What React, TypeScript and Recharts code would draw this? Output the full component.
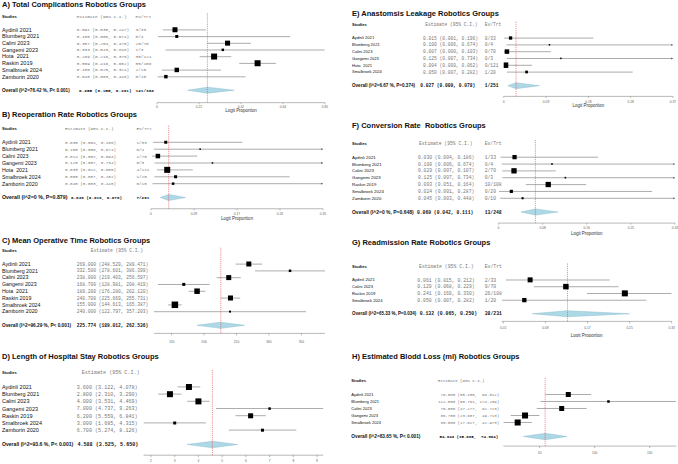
import React from "react";
import { ComposedChart, Bar, Scatter, XAxis, YAxis, ReferenceLine } from "recharts";

const SANS = "'Liberation Sans', Arial, sans-serif";
const MONO = "'Liberation Mono', 'Courier New', monospace";

// A) Total complications
const studiesA = ["Aydinli 2021", "Blumberg 2021", "Calini 2023", "Gangemi 2023", "Hota  2021", "Raskin 2019", "Smalbroek 2024", "Zamborin 2020"];
const estA = [0.091, 0.1, 0.357, 0.333, 0.289, 0.509, 0.1, 0.045];
const loA = [0.03, 0.006, 0.254, 0.043, 0.216, 0.416, 0.025, 0.003];
const hiA = [0.247, 0.674, 0.475, 0.848, 0.376, 0.602, 0.324, 0.448];
const evA = [3, 0, 25, 1, 35, 55, 2, 0];
const nA = [33, 4, 70, 3, 121, 108, 20, 10];
const wA = [14.8, 5.3, 14.8, 3.6, 21.3, 21.3, 11.8, 7.1];
const overallA: [number, number, number] = [0.255, 0.155, 0.391];
const ticksA = [0, 0.2125, 0.425, 0.6375, 0.85];
const tickLabelsA = ["0", "0.21", "0.42", "0.64", "0.85"];

// B) Reoperation rate
const studiesB = ["Aydinli 2021", "Blumberg 2021", "Calini 2023", "Gangemi 2023", "Hota  2021", "Smalbroek 2024", "Zamborin 2020"];
const estB = [0.03, 0.1, 0.014, 0.125, 0.033, 0.05, 0.045];
const loB = [0.004, 0.006, 0.002, 0.007, 0.012, 0.007, 0.003];
const hiB = [0.186, 0.674, 0.094, 0.734, 0.085, 0.282, 0.448];
const evB = [1, 0, 1, 0, 4, 1, 0];
const nB = [33, 4, 70, 3, 121, 20, 10];
const wB = [10.6, 2.7, 23.9, 2.7, 42.5, 10.6, 7.4];
const overallB: [number, number, number] = [0.036, 0.019, 0.07];
const ticksB = [0, 0.0875, 0.175, 0.2625, 0.35];
const tickLabelsB = ["0", "0.09", "0.17", "0.26", "0.35"];

// C) Mean operative time
const studiesC = ["Aydinli 2021", "Blumberg 2021", "Calini 2023", "Gangemi 2023", "Hota  2021", "Raskin 2019", "Smalbroek 2024", "Zamborin 2020"];
const estC = [269.0, 332.5, 238.0, 168.7, 189.2, 240.7, 155.0, 240.0];
const loC = [248.529, 278.601, 219.403, 128.981, 176.28, 225.669, 144.613, 122.797];
const hiC = [289.471, 386.399, 256.597, 208.419, 202.12, 255.731, 165.387, 357.203];
const wC = [15.0, 3.8, 15.0, 5.4, 18.1, 15.0, 25.3, 2.4];
const overallC: [number, number, number] = [225.774, 189.012, 262.536];
const ticksC = [150, 200, 250, 300, 350];
const tickLabelsC = ["150", "200", "250", "300", "350"];

// D) Length of hospital stay
const studiesD = ["Aydinli 2021", "Blumberg 2021", "Calini 2023", "Gangemi 2023", "Raskin 2019", "Smalbroek 2024", "Zamborin 2020"];
const estD = [3.6, 2.8, 4.0, 7.0, 6.2, 3.0, 6.7];
const loD = [3.122, 2.31, 3.531, 4.737, 5.559, 1.685, 5.274];
const hiD = [4.078, 3.29, 4.469, 9.263, 6.841, 4.315, 8.126];
const wD = [22.9, 22.9, 22.9, 4.0, 15.9, 5.7, 5.7];
const overallD: [number, number, number] = [4.588, 3.525, 5.65];
const ticksD = [2, 3, 4, 5, 6, 7, 8, 9];
const tickLabelsD = ["2", "3", "4", "5", "6", "7", "8", "9"];

// E) Anastomosis leakage
const studiesE = ["Aydinli 2021", "Blumberg 2021", "Calini 2023", "Gangemi 2023", "Hota  2021", "Smalbroek 2024"];
const estE = [0.015, 0.1, 0.007, 0.125, 0.004, 0.05];
const loE = [0.001, 0.006, 0.0, 0.007, 0.0, 0.007];
const hiE = [0.196, 0.674, 0.103, 0.734, 0.062, 0.282];
const evE = [0, 0, 0, 0, 0, 1];
const nE = [33, 4, 70, 3, 121, 20];
const wE = [14.9, 3.1, 27.7, 3.1, 41.3, 10.0];
const overallE: [number, number, number] = [0.027, 0.009, 0.078];
const ticksE = [0, 0.0925, 0.185, 0.2775, 0.37];
const tickLabelsE = ["0", "0.09", "0.18", "0.28", "0.37"];

// F) Conversion rate
const studiesF = ["Aydinli 2021", "Blumberg 2021", "Calini 2023", "Gangemi 2023", "Raskin 2019", "Smalbroek 2024", "Zamborin 2020"];
const estF = [0.03, 0.1, 0.029, 0.125, 0.093, 0.024, 0.045];
const loF = [0.004, 0.006, 0.007, 0.007, 0.051, 0.001, 0.003];
const hiF = [0.186, 0.674, 0.107, 0.734, 0.164, 0.287, 0.448];
const evF = [1, 0, 2, 0, 10, 0, 0];
const nF = [33, 4, 70, 3, 108, 20, 10];
const wF = [19.2, 2.7, 29.9, 2.7, 29.9, 10.8, 4.8];
const overallF: [number, number, number] = [0.069, 0.042, 0.111];
const ticksF = [0, 0.0825, 0.165, 0.2475, 0.33];
const tickLabelsF = ["0", "0.08", "0.16", "0.25", "0.33"];

// G) Readmission rate
const studiesG = ["Aydinli 2021", "Calini 2023", "Raskin 2019", "Smalbroek 2024"];
const estG = [0.061, 0.129, 0.241, 0.05];
const loG = [0.015, 0.068, 0.169, 0.007];
const hiG = [0.212, 0.229, 0.33, 0.282];
const evG = [2, 9, 26, 1];
const nG = [33, 70, 108, 20];
const wG = [22.8, 27.4, 32.9, 16.9];
const overallG: [number, number, number] = [0.132, 0.065, 0.25];
const ticksG = [0.01, 0.09, 0.17, 0.25, 0.33];
const tickLabelsG = ["0.01", "0.09", "0.17", "0.25", "0.33"];

// H) Estimated blood loss
const studiesH = ["Aydinli 2021", "Blumberg 2021", "Calini 2023", "Gangemi 2023", "Smalbroek 2024"];
const estH = [76.0, 112.5, 70.0, 36.7, 30.0];
const loH = [55.188, 50.761, 47.277, 23.687, 17.027];
const hiH = [96.812, 174.239, 92.723, 49.713, 42.973];
const wH = [19.5, 4.9, 19.5, 28.1, 28.1];
const overallH: [number, number, number] = [54.949, 35.095, 74.804];
const ticksH = [50, 100, 150];
const tickLabelsH = ["50", "100", "150"];

type PanelData = {
  title: string;
  studies: string[];
  est: number[];
  lo: number[];
  hi: number[];
  w: number[];
  ev?: number[];
  n?: number[];
  overallLabel: string;
  overall: [number, number, number];
  domain: [number, number];
  ticks: number[];
  tickLabels: string[];
  xLabel?: string;
};

type Layout = {
  left: number;
  top: number;
  width: number;
  yw: number;
  mr: number;
  band: number;
  pad: number;
  axisH: number;
  titleX: number;
  titleBase: number;
  nameX: number;
  estX: number;
  ovDx: number;
  estHeadX: number;
  evX?: number;
  nameSize: number;
  ovSize: number;
  monoSize: number;
  sqMax: number;
  tickSize: number;
  tickMargin: number;
  lblDy?: number;
};

type Row = {
  key: string;
  kind: "hdr" | "gap" | "study" | "overall";
  name?: string;
  sq?: number;
  est?: number;
  lo?: number;
  hi?: number;
  range?: [number, number];
  ci?: string;
  evt?: string;
  w?: number;
};

const LOGIT = "Logit Proportion";

const panels: { d: PanelData; L: Layout }[] = [
  {
    d: { title: "A) Total Complications Robotics Groups", studies: studiesA, est: estA, lo: loA, hi: hiA, w: wA, ev: evA, n: nA,
      overallLabel: "Overall (I^2=76.42 %, P< 0.001)", overall: overallA, domain: [0, 0.85], ticks: ticksA, tickLabels: tickLabelsA, xLabel: LOGIT },
    L: { left: 0, top: 13.35, width: 335, yw: 157, mr: 10, band: 6.7, pad: 9.25, axisH: 12, titleX: 2, titleBase: 7.5,
      nameX: 2, estX: 76.7, ovDx: 2.3, estHeadX: 76.7, evX: 135.5, nameSize: 5.5, ovSize: 4.66, monoSize: 4.4, sqMax: 6, tickSize: 1.5, tickMargin: 1.7, lblDy: 8 },
  },
  {
    d: { title: "B) Reoperation Rate Robotics Groups", studies: studiesB, est: estB, lo: loB, hi: hiB, w: wB, ev: evB, n: nB,
      overallLabel: "Overall (I^2=0 %, P=0.879)", overall: overallB, domain: [0, 0.35], ticks: ticksB, tickLabels: tickLabelsB, xLabel: LOGIT },
    L: { left: 0, top: 125.25, width: 333, yw: 151, mr: 10, band: 6.9, pad: 7.85, axisH: 13, titleX: 2, titleBase: 117.5,
      nameX: 2, estX: 65, ovDx: 6, estHeadX: 65, evX: 136.5, nameSize: 5.3, ovSize: 5.3, monoSize: 4.25, sqMax: 6, tickSize: 1.5, tickMargin: 2.3, lblDy: 10 },
  },
  {
    d: { title: "C) Mean Operative Time Robotics Groups", studies: studiesC, est: estC, lo: loC, hi: hiC, w: wC,
      overallLabel: "Overall (I^2=96.29 %, P< 0.001)", overall: overallC, domain: [122.797, 386.399], ticks: ticksC, tickLabels: tickLabelsC },
    L: { left: 0, top: 246.6, width: 335, yw: 154, mr: 10, band: 6.8, pad: 4.8, axisH: 12, titleX: 2, titleBase: 243.7,
      nameX: 2, estX: 76.7, ovDx: 0, estHeadX: 90.7, nameSize: 5.3, ovSize: 4.75, monoSize: 4.6, sqMax: 6.5, tickSize: 2, tickMargin: 4.8 },
  },
  {
    d: { title: "D) Length of Hospital Stay Robotics Groups", studies: studiesD, est: estD, lo: loD, hi: hiD, w: wD,
      overallLabel: "Overall (I^2=93.6 %, P< 0.001)", overall: overallD, domain: [1.685, 9.263], ticks: ticksD, tickLabels: tickLabelsD },
    L: { left: 0, top: 369.1, width: 333.3, yw: 143.5, mr: 10, band: 7.2, pad: 7, axisH: 9, titleX: 2, titleBase: 359.3,
      nameX: 2, estX: 76.7, ovDx: 0.7, estHeadX: 81.7, nameSize: 5.5, ovSize: 5.1, monoSize: 5.1, sqMax: 6, tickSize: 2, tickMargin: 2.5 },
  },
  {
    d: { title: "E) Anastomsis Leakage Robotics Groups", studies: studiesE, est: estE, lo: loE, hi: hiE, w: wE, ev: evE, n: nE,
      overallLabel: "Overall (I^2=6.67 %, P=0.374)", overall: overallE, domain: [0, 0.37], ticks: ticksE, tickLabels: tickLabelsE, xLabel: LOGIT },
    L: { left: 338, top: 20.6, width: 340, yw: 165.7, mr: 5, band: 6.8, pad: 7.4, axisH: 13, titleX: 14, titleBase: 16.5,
      nameX: 14, estX: 85, ovDx: -2.7, estHeadX: 87.3, evX: 146.7, nameSize: 4.1, ovSize: 4.6, monoSize: 4.6, sqMax: 5.5, tickSize: 1.5, tickMargin: 2.3, lblDy: 9.5 },
  },
  {
    d: { title: "F) Conversion Rate  Robotics Groups", studies: studiesF, est: estF, lo: loF, hi: hiF, w: wF, ev: evF, n: nF,
      overallLabel: "Overall (I^2=0 %, P=0.648)", overall: overallF, domain: [0, 0.33], ticks: ticksF, tickLabels: tickLabelsF, xLabel: LOGIT },
    L: { left: 338, top: 139.9, width: 340, yw: 160.5, mr: 3, band: 6.85, pad: 7.75, axisH: 13, titleX: 14, titleBase: 128.3,
      nameX: 14, estX: 80, ovDx: -1, estHeadX: 81, evX: 146.7, nameSize: 4.4, ovSize: 5.0, monoSize: 4.7, sqMax: 5.3, tickSize: 1.5, tickMargin: 2.3, lblDy: 10 },
  },
  {
    d: { title: "G) Readmission Rate Robotics Groups", studies: studiesG, est: estG, lo: loG, hi: hiG, w: wG, ev: evG, n: nG,
      overallLabel: "Overall (I^2=65.33 %, P=0.034)", overall: overallG, domain: [0.007, 0.33], ticks: ticksG, tickLabels: tickLabelsG, xLabel: LOGIT },
    L: { left: 338, top: 262.9, width: 340, yw: 163.7, mr: 6.3, band: 6.75, pad: 4.4, axisH: 16, titleX: 14, titleBase: 245,
      nameX: 14, estX: 79.3, ovDx: 2.4, estHeadX: 81, evX: 146.7, nameSize: 4.2, ovSize: 4.5, monoSize: 4.8, sqMax: 6, tickSize: 2, tickMargin: 3.5, lblDy: 14 },
  },
  {
    d: { title: "H) Estimated Blodd Loss (ml) Robotics Groups", studies: studiesH, est: estH, lo: loH, hi: hiH, w: wH,
      overallLabel: "Overall (I^2=83.65 %, P< 0.001)", overall: overallH, domain: [17.027, 174.239], ticks: ticksH, tickLabels: tickLabelsH },
    L: { left: 338, top: 377.2, width: 340, yw: 165.4, mr: 1.6, band: 7, pad: 6.1, axisH: 12, titleX: 14, titleBase: 359.7,
      nameX: 13.3, estX: 100, ovDx: -1, estHeadX: 100, nameSize: 4.1, ovSize: 4.75, monoSize: 4.1, sqMax: 6, tickSize: 2, tickMargin: 3.5 },
  },
];

const sum = (a: number[]) => a.reduce((s, v) => s + v, 0);

function buildRows(d: PanelData): Row[] {
  const width = (vals: number[]) => Math.max(...vals.map((v) => v.toFixed(3).length));
  const we = width([...d.est, d.overall[0]]);
  const wl = width([...d.lo, d.overall[1]]);
  const wh = width([...d.hi, d.overall[2]]);
  const f = (v: number, n: number) => v.toFixed(3).padStart(n, " ");
  const ci = (e: number, l: number, h: number) => `${f(e, we)} (${f(l, wl)}, ${f(h, wh)})`;

  const rows: Row[] = [
    { key: "__hdr", kind: "hdr" },
    { key: "__g1", kind: "gap" },
  ];
  d.studies.forEach((s, i) => {
    rows.push({
      key: s,
      kind: "study",
      name: s,
      sq: d.est[i],
      est: d.est[i],
      lo: d.lo[i],
      hi: d.hi[i],
      range: [d.lo[i], d.hi[i]],
      ci: ci(d.est[i], d.lo[i], d.hi[i]),
      evt: d.ev && d.n ? `${d.ev[i]}/${d.n[i]}` : undefined,
      w: d.w[i],
    });
  });
  rows.push({ key: "__g2", kind: "gap" });
  const [oe, ol, oh] = d.overall;
  rows.push({
    key: "__ov",
    kind: "overall",
    name: d.overallLabel,
    est: oe,
    lo: ol,
    hi: oh,
    range: [ol, oh],
    ci: ci(oe, ol, oh),
    evt: d.ev && d.n ? `${sum(d.ev)}/${sum(d.n)}` : undefined,
  });
  return rows;
}

function ForestPanel({ d, L }: { d: PanelData; L: Layout }) {
  const rows = buildRows(d);
  const rowMap = new Map(rows.map((r) => [r.key, r]));
  const maxW = Math.max(...d.w);
  const plotRight = L.width - L.mr;
  const height = rows.length * L.band + L.pad + L.axisH;
  const hasEv = !!d.ev;

  const rowTick = (p: any) => {
    const r = rowMap.get(p.payload?.value);
    const y = p.y;
    if (!r || r.kind === "gap") return <g />;
    const mono = { fontFamily: MONO, fontSize: L.monoSize, style: { whiteSpace: "pre" as const } };
    if (r.kind === "hdr") {
      return (
        <g>
          <text x={L.nameX} y={y} dy="0.35em" fontFamily={SANS} fontSize={4.1} fontWeight="bold" fill="#111">Studies</text>
          <text x={L.estHeadX} y={y} dy="0.35em" fill="#777" {...mono}>Estimate (95% C.I.)</text>
          {hasEv && L.evX != null && (
            <text x={L.evX} y={y} dy="0.35em" fill="#777" {...mono}>Ev/Trt</text>
          )}
        </g>
      );
    }
    const bold = r.kind === "overall";
    return (
      <g>
        <text
          x={L.nameX}
          y={y}
          dy="0.35em"
          fontFamily={SANS}
          fontSize={bold ? L.ovSize : L.nameSize}
          fontWeight={bold ? "bold" : "normal"}
          fill="#111"
          style={{ whiteSpace: "pre" }}
        >
          {r.name}
        </text>
        <text
          x={L.estX + (bold ? L.ovDx : 0)}
          y={y}
          dy="0.35em"
          fill={bold ? "#111" : "#777"}
          fontWeight={bold ? "bold" : "normal"}
          {...mono}
        >
          {r.ci}
        </text>
        {r.evt && L.evX != null && (
          <text x={L.evX} y={y} dy="0.35em" fill={bold ? "#111" : "#777"} fontWeight={bold ? "bold" : "normal"} {...mono}>{r.evt}</text>
        )}
      </g>
    );
  };

  const ciShape = (p: any) => {
    const r = p.payload as Row;
    if (!r || !r.range || !isFinite(p.x) || !isFinite(p.width)) return <g />;
    const cy = p.y + p.height / 2;
    if (r.kind === "overall") {
      const xm = p.x + (p.width * (r.est! - r.lo!)) / (r.hi! - r.lo!);
      const h = L.band * 0.45;
      return (
        <polygon
          points={`${p.x},${cy} ${xm},${cy - h} ${p.x + p.width},${cy} ${xm},${cy + h}`}
          fill="#add8e6"
          stroke="#7fb2c8"
          strokeWidth={0.4}
        />
      );
    }
    const x2 = Math.min(p.x + p.width, plotRight);
    const over = r.hi! > d.domain[1];
    return (
      <g>
        <line x1={p.x} x2={x2} y1={cy} y2={cy} stroke="#666" strokeWidth={0.55} />
        {over && <polygon points={`${x2},${cy} ${x2 - 2},${cy - 0.9} ${x2 - 2},${cy + 0.9}`} fill="#666" />}
      </g>
    );
  };

  const squareShape = (p: any) => {
    const r = p.payload as Row;
    if (!r || r.kind !== "study" || !isFinite(p.cx) || !isFinite(p.cy)) return <g />;
    const s = Math.max(1.3, L.sqMax * Math.sqrt(r.w! / maxW));
    return <rect x={p.cx - s / 2} y={p.cy - s / 2} width={s} height={s} fill="#000" />;
  };

  const lblCenter = L.lblDy ?? 0;

  return (
    <>
      <div
        style={{
          position: "absolute",
          left: L.left + L.titleX,
          top: L.titleBase - 6.35,
          fontFamily: SANS,
          fontWeight: 700,
          fontSize: 7.5,
          lineHeight: 1,
          whiteSpace: "pre",
          color: "#111",
        }}
      >
        {d.title}
      </div>
      <div style={{ position: "absolute", left: L.left, top: L.top }}>
        <ComposedChart
          width={L.width}
          height={height}
          layout="vertical"
          data={rows}
          margin={{ top: 0, right: L.mr, bottom: 0, left: 0 }}
          barCategoryGap={0}
        >
          <XAxis
            type="number"
            domain={d.domain}
            ticks={d.ticks}
            interval={0}
            allowDataOverflow
            height={L.axisH}
            stroke="#8a8a8a"
            strokeWidth={0.6}
            tickSize={L.tickSize}
            tickMargin={L.tickMargin}
            tick={{ fontSize: 3.3, fill: "#666", fontFamily: SANS }}
            tickFormatter={(_v: number, i: number) => d.tickLabels[i]}
            label={
              d.xLabel
                ? {
                    value: d.xLabel,
                    position: "insideBottom",
                    offset: L.axisH - (lblCenter + 1.6),
                    fontSize: 4.5,
                    fill: "#333",
                    fontFamily: SANS,
                  }
                : undefined
            }
          />
          <YAxis
            type="category"
            dataKey="key"
            width={L.yw}
            axisLine={false}
            tickLine={false}
            interval={0}
            allowDuplicatedCategory={false}
            padding={{ top: 0, bottom: L.pad }}
            tick={rowTick}
          />
          <ReferenceLine x={d.overall[0]} stroke="#e04a50" strokeDasharray="1.2 0.9" strokeWidth={0.6} />
          <Bar dataKey="range" shape={ciShape} isAnimationActive={false} />
          <Scatter dataKey="sq" shape={squareShape} isAnimationActive={false} />
        </ComposedChart>
      </div>
    </>
  );
}

export default function App() {
  return (
    <div style={{ position: "absolute", left: 0, top: 0, width: 678, height: 464, background: "#fff", overflow: "hidden" }}>
      {panels.map((p, i) => (
        <ForestPanel key={i} d={p.d} L={p.L} />
      ))}
    </div>
  );
}
